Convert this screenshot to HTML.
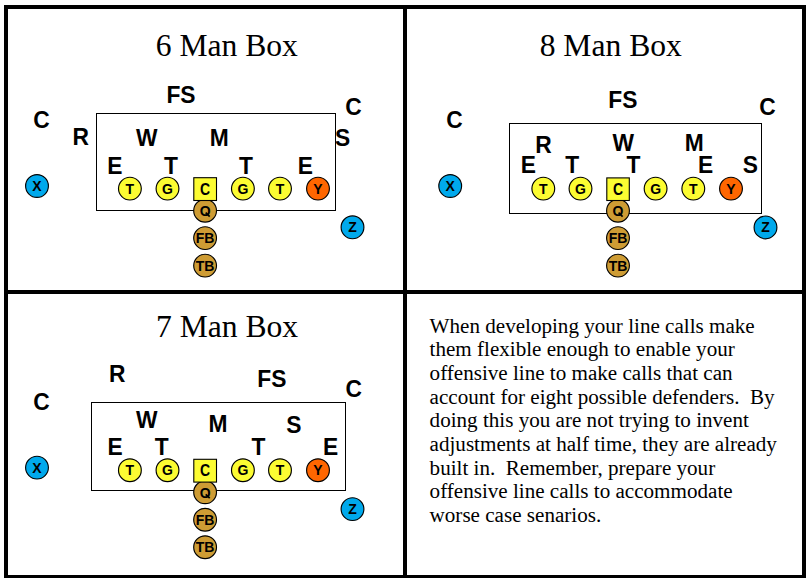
<!DOCTYPE html>
<html><head><meta charset="utf-8"><style>
html,body{margin:0;padding:0;background:#fff;width:810px;height:584px;overflow:hidden}
svg{display:block}
.t{font-family:"Liberation Serif",serif;font-size:31.6px;fill:#000}
.p{font-family:"Liberation Serif",serif;font-size:21.1px;fill:#000}
.l{font-family:"Liberation Sans",sans-serif;font-weight:bold;font-size:22.8px;text-anchor:middle;fill:#000}
.c{font-family:"Liberation Sans",sans-serif;font-weight:bold;font-size:14px;text-anchor:middle;fill:#000}
</style></head><body>
<svg width="810" height="584" viewBox="0 0 810 584">
<rect x="4" y="5" width="802" height="4"/>
<rect x="4" y="5" width="4" height="573"/>
<rect x="802" y="5" width="4" height="573"/>
<rect x="4" y="575" width="802" height="3"/>
<rect x="403" y="5" width="4" height="573"/>
<rect x="4" y="290" width="802" height="4"/>
<text x="155.74" y="56.00" class="t">6 Man Box</text>
<text x="539.64" y="56.00" class="t">8 Man Box</text>
<text x="155.94" y="337.00" class="t">7 Man Box</text>
<rect x="96.50" y="113.50" width="239.00" height="97.00" fill="none" stroke="#000" stroke-width="1"/>
<text transform="translate(180.95,102.90) scale(1,1.08)" class="l">FS</text>
<text transform="translate(41.55,127.50) scale(1,1.08)" class="l">C</text>
<text transform="translate(80.75,145.40) scale(1,1.08)" class="l">R</text>
<text transform="translate(146.70,145.90) scale(1,1.08)" class="l">W</text>
<text transform="translate(219.25,146.20) scale(1,1.08)" class="l">M</text>
<text transform="translate(353.50,115.00) scale(1,1.08)" class="l">C</text>
<text transform="translate(342.70,146.20) scale(1,1.08)" class="l">S</text>
<text transform="translate(114.90,173.90) scale(1,1.08)" class="l">E</text>
<text transform="translate(170.85,173.90) scale(1,1.08)" class="l">T</text>
<text transform="translate(245.85,173.90) scale(1,1.08)" class="l">T</text>
<text transform="translate(305.30,173.90) scale(1,1.08)" class="l">E</text>
<circle cx="37.00" cy="186.00" r="11.4" fill="#00A9EC" stroke="#000" stroke-width="1.15"/><text x="37.00" y="191.20" class="c">X</text>
<circle cx="129.90" cy="188.60" r="11.4" fill="#FCFC32" stroke="#000" stroke-width="1.15"/><text x="129.90" y="193.80" class="c">T</text>
<circle cx="167.50" cy="188.60" r="11.4" fill="#FCFC32" stroke="#000" stroke-width="1.15"/><text x="167.50" y="193.80" class="c">G</text>
<circle cx="242.90" cy="188.60" r="11.4" fill="#FCFC32" stroke="#000" stroke-width="1.15"/><text x="242.90" y="193.80" class="c">G</text>
<circle cx="280.00" cy="188.60" r="11.4" fill="#FCFC32" stroke="#000" stroke-width="1.15"/><text x="280.00" y="193.80" class="c">T</text>
<circle cx="318.00" cy="188.60" r="11.4" fill="#FF6600" stroke="#000" stroke-width="1.15"/><text x="318.00" y="193.80" class="c">Y</text>
<circle cx="352.50" cy="227.30" r="11.4" fill="#00A9EC" stroke="#000" stroke-width="1.15"/><text x="352.50" y="232.00" class="c">Z</text>
<circle cx="205.10" cy="210.70" r="11.4" fill="#CE9C34" stroke="#000" stroke-width="1.15"/><text x="205.10" y="215.90" class="c">O</text><line x1="205.70" y1="212.70" x2="209.70" y2="216.60" stroke="#000" stroke-width="1.7"/>
<circle cx="205.10" cy="238.10" r="11.4" fill="#CE9C34" stroke="#000" stroke-width="1.15"/><text x="205.10" y="243.30" class="c">FB</text>
<circle cx="205.10" cy="265.60" r="11.4" fill="#CE9C34" stroke="#000" stroke-width="1.15"/><text x="205.10" y="270.80" class="c">TB</text>
<rect x="193.80" y="177.70" width="22.70" height="22.80" fill="#FCFC32" stroke="#000" stroke-width="1.1"/><text transform="translate(205.15,194.70) scale(1,1.15)" class="c">C</text>
<rect x="509.50" y="123.50" width="252.00" height="90.00" fill="none" stroke="#000" stroke-width="1"/>
<text transform="translate(622.90,108.10) scale(1,1.08)" class="l">FS</text>
<text transform="translate(454.60,127.70) scale(1,1.08)" class="l">C</text>
<text transform="translate(767.50,114.70) scale(1,1.08)" class="l">C</text>
<text transform="translate(543.45,152.80) scale(1,1.08)" class="l">R</text>
<text transform="translate(623.30,150.90) scale(1,1.08)" class="l">W</text>
<text transform="translate(694.15,150.90) scale(1,1.08)" class="l">M</text>
<text transform="translate(528.25,172.80) scale(1,1.08)" class="l">E</text>
<text transform="translate(572.10,172.80) scale(1,1.08)" class="l">T</text>
<text transform="translate(633.35,173.00) scale(1,1.08)" class="l">T</text>
<text transform="translate(705.65,173.00) scale(1,1.08)" class="l">E</text>
<text transform="translate(750.35,173.00) scale(1,1.08)" class="l">S</text>
<circle cx="450.20" cy="186.00" r="11.4" fill="#00A9EC" stroke="#000" stroke-width="1.15"/><text x="450.20" y="191.20" class="c">X</text>
<circle cx="543.30" cy="188.60" r="11.4" fill="#FCFC32" stroke="#000" stroke-width="1.15"/><text x="543.30" y="193.80" class="c">T</text>
<circle cx="580.50" cy="188.60" r="11.4" fill="#FCFC32" stroke="#000" stroke-width="1.15"/><text x="580.50" y="193.80" class="c">G</text>
<circle cx="655.60" cy="188.60" r="11.4" fill="#FCFC32" stroke="#000" stroke-width="1.15"/><text x="655.60" y="193.80" class="c">G</text>
<circle cx="693.30" cy="188.60" r="11.4" fill="#FCFC32" stroke="#000" stroke-width="1.15"/><text x="693.30" y="193.80" class="c">T</text>
<circle cx="731.00" cy="188.60" r="11.4" fill="#FF6600" stroke="#000" stroke-width="1.15"/><text x="731.00" y="193.80" class="c">Y</text>
<circle cx="765.50" cy="227.40" r="11.4" fill="#00A9EC" stroke="#000" stroke-width="1.15"/><text x="765.50" y="232.00" class="c">Z</text>
<circle cx="618.00" cy="210.70" r="11.4" fill="#CE9C34" stroke="#000" stroke-width="1.15"/><text x="618.00" y="215.90" class="c">O</text><line x1="618.60" y1="212.70" x2="622.60" y2="216.60" stroke="#000" stroke-width="1.7"/>
<circle cx="618.00" cy="238.10" r="11.4" fill="#CE9C34" stroke="#000" stroke-width="1.15"/><text x="618.00" y="243.30" class="c">FB</text>
<circle cx="618.00" cy="265.60" r="11.4" fill="#CE9C34" stroke="#000" stroke-width="1.15"/><text x="618.00" y="270.80" class="c">TB</text>
<rect x="606.80" y="177.90" width="22.50" height="22.60" fill="#FCFC32" stroke="#000" stroke-width="1.1"/><text transform="translate(618.05,194.70) scale(1,1.15)" class="c">C</text>
<rect x="91.50" y="402.50" width="254.00" height="88.00" fill="none" stroke="#000" stroke-width="1"/>
<text transform="translate(117.30,382.10) scale(1,1.08)" class="l">R</text>
<text transform="translate(41.45,409.80) scale(1,1.08)" class="l">C</text>
<text transform="translate(271.90,386.70) scale(1,1.08)" class="l">FS</text>
<text transform="translate(353.80,397.00) scale(1,1.08)" class="l">C</text>
<text transform="translate(146.80,427.50) scale(1,1.08)" class="l">W</text>
<text transform="translate(217.95,431.90) scale(1,1.08)" class="l">M</text>
<text transform="translate(293.80,432.60) scale(1,1.08)" class="l">S</text>
<text transform="translate(115.00,454.70) scale(1,1.08)" class="l">E</text>
<text transform="translate(161.60,454.70) scale(1,1.08)" class="l">T</text>
<text transform="translate(258.50,454.90) scale(1,1.08)" class="l">T</text>
<text transform="translate(330.50,455.00) scale(1,1.08)" class="l">E</text>
<circle cx="37.00" cy="467.60" r="11.4" fill="#00A9EC" stroke="#000" stroke-width="1.15"/><text x="37.00" y="472.80" class="c">X</text>
<circle cx="129.90" cy="470.20" r="11.4" fill="#FCFC32" stroke="#000" stroke-width="1.15"/><text x="129.90" y="475.40" class="c">T</text>
<circle cx="167.50" cy="470.20" r="11.4" fill="#FCFC32" stroke="#000" stroke-width="1.15"/><text x="167.50" y="475.40" class="c">G</text>
<circle cx="242.90" cy="470.20" r="11.4" fill="#FCFC32" stroke="#000" stroke-width="1.15"/><text x="242.90" y="475.40" class="c">G</text>
<circle cx="280.00" cy="470.20" r="11.4" fill="#FCFC32" stroke="#000" stroke-width="1.15"/><text x="280.00" y="475.40" class="c">T</text>
<circle cx="318.00" cy="470.20" r="11.4" fill="#FF6600" stroke="#000" stroke-width="1.15"/><text x="318.00" y="475.40" class="c">Y</text>
<circle cx="352.50" cy="509.10" r="11.4" fill="#00A9EC" stroke="#000" stroke-width="1.15"/><text x="352.50" y="514.00" class="c">Z</text>
<circle cx="205.10" cy="492.30" r="11.4" fill="#CE9C34" stroke="#000" stroke-width="1.15"/><text x="205.10" y="497.50" class="c">O</text><line x1="205.70" y1="494.30" x2="209.70" y2="498.20" stroke="#000" stroke-width="1.7"/>
<circle cx="205.10" cy="519.70" r="11.4" fill="#CE9C34" stroke="#000" stroke-width="1.15"/><text x="205.10" y="524.90" class="c">FB</text>
<circle cx="205.10" cy="547.20" r="11.4" fill="#CE9C34" stroke="#000" stroke-width="1.15"/><text x="205.10" y="552.40" class="c">TB</text>
<rect x="193.80" y="459.30" width="22.70" height="22.80" fill="#FCFC32" stroke="#000" stroke-width="1.1"/><text transform="translate(205.15,476.30) scale(1,1.15)" class="c">C</text>
<text x="429.6" y="332.50" class="p">When developing your line calls make</text>
<text x="429.6" y="356.18" class="p">them flexible enough to enable your</text>
<text x="429.6" y="379.85" class="p">offensive line to make calls that can</text>
<text x="429.6" y="403.52" class="p">account for eight possible defenders.&#160; By</text>
<text x="429.6" y="427.20" class="p">doing this you are not trying to invent</text>
<text x="429.6" y="450.88" class="p">adjustments at half time, they are already</text>
<text x="429.6" y="474.55" class="p">built in.&#160; Remember, prepare your</text>
<text x="429.6" y="498.23" class="p">offensive line calls to accommodate</text>
<text x="429.6" y="521.90" class="p">worse case senarios.</text>
</svg>
</body></html>
